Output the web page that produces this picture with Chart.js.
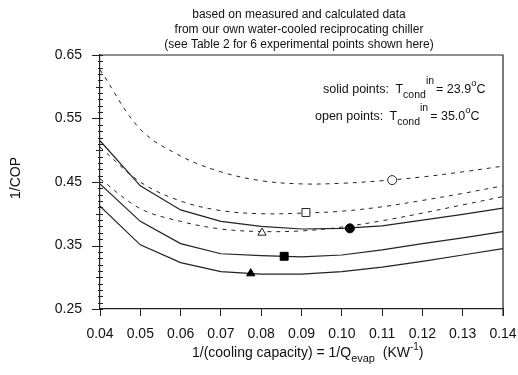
<!DOCTYPE html>
<html>
<head>
<meta charset="utf-8">
<script src="https://cdn.jsdelivr.net/npm/chart.js@4/dist/chart.umd.min.js"></script>
<style>
  html, body { margin: 0; padding: 0; background: #fff; }
  canvas { display: block; }
</style>
</head>
<body>
<canvas id="cop-chart" width="518" height="375"></canvas>
<script>
var xKnots = [0.04, 0.05, 0.06, 0.07, 0.08, 0.09, 0.10, 0.11, 0.12, 0.13, 0.14];

// solid curves (T_cond,in = 23.9 C)
var solidHigh = [0.515, 0.444, 0.406, 0.388, 0.380, 0.376, 0.377, 0.381, 0.390, 0.399, 0.409];
var solidMid  = [0.447, 0.388, 0.353, 0.337, 0.334, 0.332, 0.335, 0.343, 0.353, 0.362, 0.372];
var solidLow  = [0.412, 0.351, 0.323, 0.309, 0.305, 0.305, 0.309, 0.316, 0.325, 0.335, 0.345];

// dashed curves (T_cond,in = 35.0 C)
var dashedHigh = [0.627, 0.533, 0.491, 0.466, 0.452, 0.447, 0.448, 0.452, 0.458, 0.466, 0.475];
var dashedMid  = [0.505, 0.450, 0.420, 0.405, 0.400, 0.401, 0.404, 0.411, 0.421, 0.432, 0.444];
var dashedLow  = [0.455, 0.408, 0.388, 0.376, 0.372, 0.373, 0.379, 0.389, 0.401, 0.414, 0.427];

// experimental points
var solidPtX = [0.0774, 0.0857, 0.102];
var solidPtY = [0.306, 0.333, 0.377];
var openPtX  = [0.0802, 0.0911, 0.1125];
var openPtY  = [0.370, 0.402, 0.453];
var ptStyles = ['triangle', 'rect', 'circle'];
var ptSizes  = [4.8, 5.6, 4.5];

var xTicks = [0.04, 0.05, 0.06, 0.07, 0.08, 0.09, 0.10, 0.11, 0.12, 0.13, 0.14];
var yTicks = [0.25, 0.35, 0.45, 0.55, 0.65];

var titleLines = [
    'based on measured and calculated data',
    'from our own water-cooled reciprocating chiller',
    '(see Table 2 for 6 experimental points shown here)'
];

var FONT = '"Liberation Sans", Arial, Helvetica, sans-serif';
var INK = '#111';

function pairs(xs, ys) {
    return xs.map(function (x, i) { return { x: x, y: ys[i] }; });
}

function curve(ys, dashed) {
    return {
        data: pairs(xKnots, ys),
        borderColor: '#222',
        borderWidth: dashed ? 1 : 1.2,
        borderDash: dashed ? [4, 5] : [],
        tension: dashed ? 0.35 : 0,
        pointRadius: 0,
        fill: false,
        order: 2
    };
}

var datasets = [];
ptStyles.forEach(function (st, i) {
    datasets.push({
        data: [{ x: solidPtX[i], y: solidPtY[i] }],
        showLine: false,
        pointStyle: st,
        pointRadius: ptSizes[i],
        backgroundColor: '#000',
        borderColor: '#000',
        borderWidth: 1,
        order: 0
    });
    datasets.push({
        data: [{ x: openPtX[i], y: openPtY[i] }],
        showLine: false,
        pointStyle: st,
        pointRadius: ptSizes[i],
        backgroundColor: '#fff',
        borderColor: '#222',
        borderWidth: 1,
        order: 0
    });
});
datasets.push(curve(solidHigh, false), curve(solidMid, false), curve(solidLow, false));
datasets.push(curve(dashedHigh, true), curve(dashedMid, true), curve(dashedLow, true));

// draws a run of text pieces, each with its own size and vertical shift
function drawRun(ctx, x, y, parts) {
    parts.forEach(function (p) {
        ctx.font = p.size + 'px ' + FONT;
        ctx.fillText(p.t, x, y + (p.dy || 0));
        x += ctx.measureText(p.t).width + (p.gap || 0);
    });
    return x;
}

var decor = {
    id: 'decor',
    afterDraw: function (chart) {
        var ctx = chart.ctx;
        var a = chart.chartArea;
        var ys = chart.scales.y;
        ctx.save();

        // frame: top and right
        ctx.strokeStyle = '#222';
        ctx.lineWidth = 1.2;
        ctx.beginPath();
        ctx.moveTo(a.left, a.top);
        ctx.lineTo(a.right, a.top);
        ctx.lineTo(a.right, a.bottom + 7);
        ctx.stroke();

        // y ticks: minor every 0.01, longer at labels
        ctx.lineWidth = 1;
        ctx.beginPath();
        for (var k = 25; k <= 65; k++) {
            var py = Math.round(ys.getPixelForValue(k / 100)) + 0.5;
            var left = (k % 10 === 5) ? 8 : (k % 5 === 0 ? 4 : 2);
            ctx.moveTo(a.left - left, py);
            ctx.lineTo(a.left + 3, py);
        }
        ctx.stroke();

        ctx.fillStyle = INK;
        ctx.textBaseline = 'alphabetic';

        // title
        ctx.textAlign = 'center';
        ctx.font = '12px ' + FONT;
        titleLines.forEach(function (s, i) {
            ctx.fillText(s, 299, 18 + i * 15);
        });

        ctx.textAlign = 'left';
        // annotation lines
        drawRun(ctx, 323, 93, [
            { t: 'solid points: ', size: 12.5, gap: 3 },
            { t: 'T', size: 12.5 },
            { t: 'cond', size: 10.5, dy: 5 },
            { t: 'in', size: 10.5, dy: -9, gap: 2 },
            { t: '= 23.9', size: 12.5 },
            { t: 'o', size: 9.5, dy: -7 },
            { t: 'C', size: 12.5 }
        ]);
        drawRun(ctx, 315, 120, [
            { t: 'open points: ', size: 12.5, gap: 3 },
            { t: 'T', size: 12.5 },
            { t: 'cond', size: 10.5, dy: 5 },
            { t: 'in', size: 10.5, dy: -9, gap: 2 },
            { t: '= 35.0', size: 12.5 },
            { t: 'o', size: 9.5, dy: -7 },
            { t: 'C', size: 12.5 }
        ]);

        // x axis title
        drawRun(ctx, 192, 357, [
            { t: '1/(cooling capacity) = 1/Q', size: 14 },
            { t: 'evap', size: 11, dy: 5 },
            { t: '  (KW', size: 14 },
            { t: '-1', size: 10, dy: -7 },
            { t: ')', size: 14 }
        ]);

        // y axis title
        ctx.translate(20, 178);
        ctx.rotate(-Math.PI / 2);
        ctx.textAlign = 'center';
        ctx.font = '14px ' + FONT;
        ctx.fillText('1/COP', 0, 0);

        ctx.restore();
    }
};

var config = {
    type: 'line',
    data: { datasets: datasets },
    options: {
        responsive: false,
        devicePixelRatio: 1,
        animation: false,
        layout: { padding: { top: 55, right: 15, left: 0, bottom: 0 } },
        plugins: {
            legend: { display: false },
            tooltip: { enabled: false }
        },
        scales: {
            x: {
                type: 'linear',
                min: 0.04,
                max: 0.14,
                afterBuildTicks: function (s) {
                    s.ticks = xTicks.map(function (v) { return { value: v }; });
                },
                afterFit: function (s) {
                    s.height = 66;
                    s.paddingLeft = 0;
                    s.paddingRight = 0;
                },
                ticks: {
                    autoSkip: false,
                    maxRotation: 0,
                    padding: 10,
                    color: INK,
                    font: { family: FONT, size: 14 },
                    callback: function (v) { return Number(v).toFixed(2); }
                },
                grid: {
                    drawOnChartArea: false,
                    tickLength: 7,
                    color: '#222'
                },
                border: { color: '#222', width: 1.2 }
            },
            y: {
                type: 'linear',
                min: 0.25,
                max: 0.65,
                afterBuildTicks: function (s) {
                    s.ticks = yTicks.map(function (v) { return { value: v }; });
                },
                afterFit: function (s) {
                    s.width = 100;
                    s.paddingTop = 0;
                    s.paddingBottom = 0;
                },
                ticks: {
                    padding: 18,
                    color: INK,
                    font: { family: FONT, size: 14 },
                    callback: function (v) { return Number(v).toFixed(2); }
                },
                grid: { display: false, drawTicks: false },
                border: { color: '#222', width: 1.2 }
            }
        }
    },
    plugins: [decor]
};

var chart = new Chart(document.getElementById('cop-chart'), config);
</script>
</body>
</html>
